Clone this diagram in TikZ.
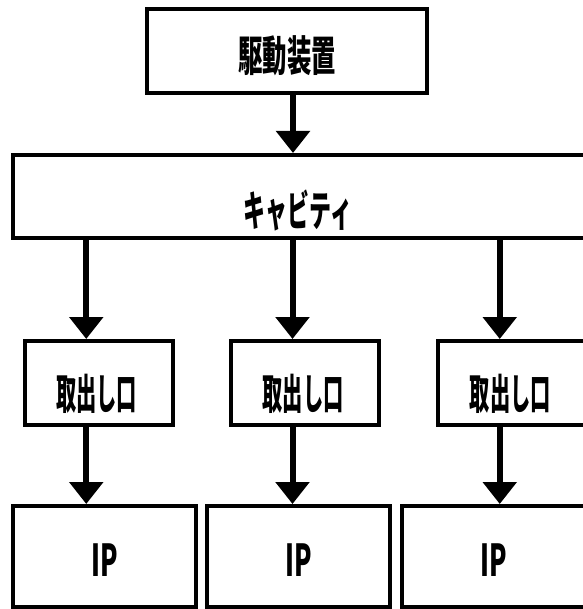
\documentclass[tikz,border=0pt]{standalone}
\usepackage{fontspec}
\usepackage{graphicx}
\newfontfamily\jp{Noto Sans CJK JP}[FakeStretch=0.58]
\usetikzlibrary{arrows.meta}
\newcommand{\tx}[4]{\raisebox{#3}[\height][\depth]{\hspace*{#1}#4\hspace*{#2}}}
\tikzset{
  box/.style={draw=black, line width=4pt, rectangle, inner sep=0pt, font=\jp\bfseries\fontsize{42}{42}\selectfont},
  arr/.style={line width=6pt, -{Triangle[width=33pt,length=22pt]}, shorten >=0pt},
}
\begin{document}
\begin{tikzpicture}[x=1pt,y=-1pt]
\useasboundingbox (0,0) rectangle (582,609);
% top
\node[box, minimum width=280pt, minimum height=84pt] (drv) at (287,51) {\tx{0pt}{0pt}{-5pt}{駆動装置}};
\node[box, minimum width=597pt, minimum height=83pt] (cav) at (311.5,196.5) {\tx{0pt}{27pt}{-14pt}{\scalebox{0.9}[1]{キャビティ}}};
\node[box, minimum width=148.5pt, minimum height=83.5pt] (t1) at (98.75,382.75) {\tx{0pt}{4pt}{-11pt}{\scalebox{0.83}[1]{取出し口}}};
\node[box, minimum width=148.5pt, minimum height=83.5pt] (t2) at (305,382.75) {\tx{0pt}{4pt}{-11pt}{\scalebox{0.83}[1]{取出し口}}};
\node[box, minimum width=148.5pt, minimum height=83.5pt] (t3) at (512.25,382.75) {\tx{0pt}{4pt}{-11pt}{\scalebox{0.83}[1]{取出し口}}};
\node[box, minimum width=183pt, minimum height=101pt] (ip1) at (104.5,556.5) {\tx{0pt}{0pt}{-3.5pt}{\fontsize{44}{44}\selectfont IP}};
\node[box, minimum width=183pt, minimum height=101pt] (ip2) at (298.5,556.5) {\tx{0pt}{0pt}{-3.5pt}{\fontsize{44}{44}\selectfont IP}};
\node[box, minimum width=183pt, minimum height=101pt] (ip3) at (493.5,556.5) {\tx{0pt}{0pt}{-3.5pt}{\fontsize{44}{44}\selectfont IP}};
% arrows
\draw[arr] ([xshift=6pt]drv.south) -- ([xshift=6pt]drv.south |- cav.north);
\foreach \i in {1,2,3}{
  \draw[arr] ([xshift=-12.5pt]t\i.north |- cav.south) -- ([xshift=-12.5pt]t\i.north);
  \draw[arr] ([xshift=-12.5pt]t\i.south) -- ([xshift=-12.5pt]t\i.south |- ip\i.north);
}
\end{tikzpicture}
\end{document}
